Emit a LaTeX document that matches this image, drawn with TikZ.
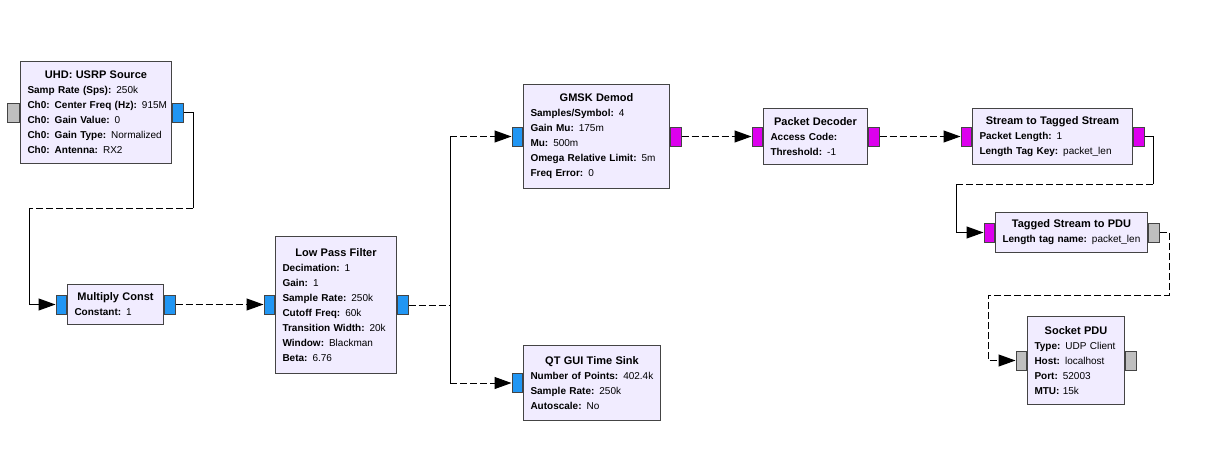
\documentclass[tikz,border=0pt]{standalone}
\usepackage{fontspec}
\setmainfont{Liberation Sans}
\usetikzlibrary{arrows.meta}

\definecolor{boxfill}{HTML}{F1ECFF}
\definecolor{boxline}{HTML}{444444}
\definecolor{cplx}{HTML}{2196F3}
\definecolor{bytes}{HTML}{DD00EE}
\definecolor{msg}{HTML}{BFBFBF}

\newcommand{\ttl}[1]{\leavevmode\hbox to\hsize{\hss\fontsize{11}{15}\selectfont\bfseries #1\hss}}
\newcommand{\kv}[2]{\mbox{\textbf{#1} #2}}

\tikzset{
  blk/.style={draw=boxline, fill=boxfill, line width=1pt, anchor=north west,
    inner xsep=7pt, inner ysep=0pt, align=left, font=\fontsize{10}{15}\selectfont},
  port/.style={draw=boxline, line width=1pt, minimum width=10.5pt, minimum height=19pt, inner sep=0pt},
  hw/.style={line width=1pt, dash pattern=on 7pt off 3pt},
  vw/.style={line width=1pt},
  tip/.style={-{Triangle[length=17pt,width=12pt]}},
}

\begin{document}
\begin{tikzpicture}[x=1pt, y=-1pt]
\useasboundingbox (0,0) rectangle (1208,448);

% blocks
\node[blk, text width=137pt, minimum height=102pt] (usrp) at (20,61) {\ttl{UHD: USRP Source}\\
  \kv{Samp Rate (Sps):}{250k}\\ \kv{Ch0: Center Freq (Hz):}{915M}\\ \kv{Ch0: Gain Value:}{0}\\
  \kv{Ch0: Gain Type:}{Normalized}\\ \kv{Ch0: Antenna:}{RX2}};
\node[blk, text width=82pt, minimum height=40pt] (mult) at (67,284) {\ttl{Multiply Const}\\ \kv{Constant:}{1}};
\node[blk, text width=107pt, minimum height=137pt] (lpf) at (275,236) {\ttl{Low Pass Filter}\\
  \kv{Decimation:}{1}\\ \kv{Gain:}{1}\\ \kv{Sample Rate:}{250k}\\ \kv{Cutoff Freq:}{60k}\\
  \kv{Transition Width:}{20k}\\ \kv{Window:}{Blackman}\\ \kv{Beta:}{6.76}};
\node[blk, text width=132pt, minimum height=104pt] (gmsk) at (523,84) {\ttl{GMSK Demod}\\
  \kv{Samples/Symbol:}{4}\\ \kv{Gain Mu:}{175m}\\ \kv{Mu:}{500m}\\
  \kv{Omega Relative Limit:}{5m}\\ \kv{Freq Error:}{0}};
\node[blk, text width=123pt, minimum height=75pt] (qt) at (523,345) {\ttl{QT GUI Time Sink}\\
  \kv{Number of Points:}{402.4k}\\ \kv{Sample Rate:}{250k}\\ \kv{Autoscale:}{No}};
\node[blk, text width=90pt, minimum height=56pt] (pkt) at (763,108) {\ttl{Packet Decoder}\\
  \kv{Access Code:}{}\\ \kv{Threshold:}{-1}};
\node[blk, text width=146pt, minimum height=56pt] (s2ts) at (972,108) {\ttl{Stream to Tagged Stream}\\
  \kv{Packet Length:}{1}\\ \kv{Length Tag Key:}{packet\_len}};
\node[blk, text width=138pt, minimum height=40pt] (pdu) at (995,212) {\ttl{Tagged Stream to PDU}\\
  \kv{Length tag name:}{packet\_len}};
\node[blk, text width=83pt, minimum height=88pt] (sock) at (1027,316) {\ttl{Socket PDU}\\
  \kv{Type:}{UDP Client}\\ \kv{Host:}{localhost}\\ \kv{Port:}{52003}\\ \kv{MTU:}{15k}};

% ports
\node[port, fill=msg, minimum width=12pt, anchor=east] (usrpin) at (usrp.west) {};
\node[port, fill=cplx, anchor=west] (usrpout) at (usrp.east) {};
\node[port, fill=cplx, anchor=east] (multin) at (mult.west) {};
\node[port, fill=cplx, anchor=west] (multout) at (mult.east) {};
\node[port, fill=cplx, anchor=east] (lpfin) at (lpf.west) {};
\node[port, fill=cplx, anchor=west] (lpfout) at (lpf.east) {};
\node[port, fill=cplx, anchor=east] (gmskin) at (gmsk.west) {};
\node[port, fill=bytes, anchor=west] (gmskout) at (gmsk.east) {};
\node[port, fill=cplx, anchor=east] (qtin) at (qt.west) {};
\node[port, fill=bytes, anchor=east] (pktin) at (pkt.west) {};
\node[port, fill=bytes, anchor=west] (pktout) at (pkt.east) {};
\node[port, fill=bytes, anchor=east] (s2tsin) at (s2ts.west) {};
\node[port, fill=bytes, anchor=west] (s2tsout) at (s2ts.east) {};
\node[port, fill=bytes, anchor=east] (pduin) at (pdu.west) {};
\node[port, fill=msg, anchor=west] (pduout) at (pdu.east) {};
\node[port, fill=msg, anchor=east] (sockin) at (sock.west) {};
\node[port, fill=msg, anchor=west] (sockout) at (sock.east) {};

% bends
\coordinate (b1) at (193,208);
\coordinate (b2) at (29,208);
\coordinate (split) at (450,304);
\coordinate (b3) at (1153,184);
\coordinate (b4) at (956,184);
\coordinate (b5) at (1169,295);
\coordinate (b6) at (988,295);

% connections
\draw[vw] (usrpout.east) -- (usrpout.east -| b1) -- (b1);
\draw[hw] (b1) -- (b2);
\draw[vw, tip] (b2) -- (b2 |- multin.west) -- (multin.west);
\draw[hw, tip] (multout.east) -- (multout.east -| lpfin.west);
\draw[hw] (lpfout.east) -- (lpfout.east -| split);
\draw[vw] (split |- gmskin.west) -- (split |- qtin.west);
\draw[hw, tip] (split |- gmskin.west) -- (gmskin.west);
\draw[hw, tip] (split |- qtin.west) -- (qtin.west);
\draw[hw, tip] (gmskout.east) -- (pktin.west);
\draw[hw, tip] (pktout.east) -- (s2tsin.west);
\draw[vw] (s2tsout.east) -- (s2tsout.east -| b3) -- (b3);
\draw[hw] (b3) -- (b4);
\draw[vw, tip] (b4) -- (b4 |- pduin.west) -- (pduin.west);
\draw[hw, tip] (pduout.east) -- (pduout.east -| b5) -- (b5) -- (b6) -- (b6 |- sockin.west) -- (sockin.west);
\end{tikzpicture}
\end{document}
